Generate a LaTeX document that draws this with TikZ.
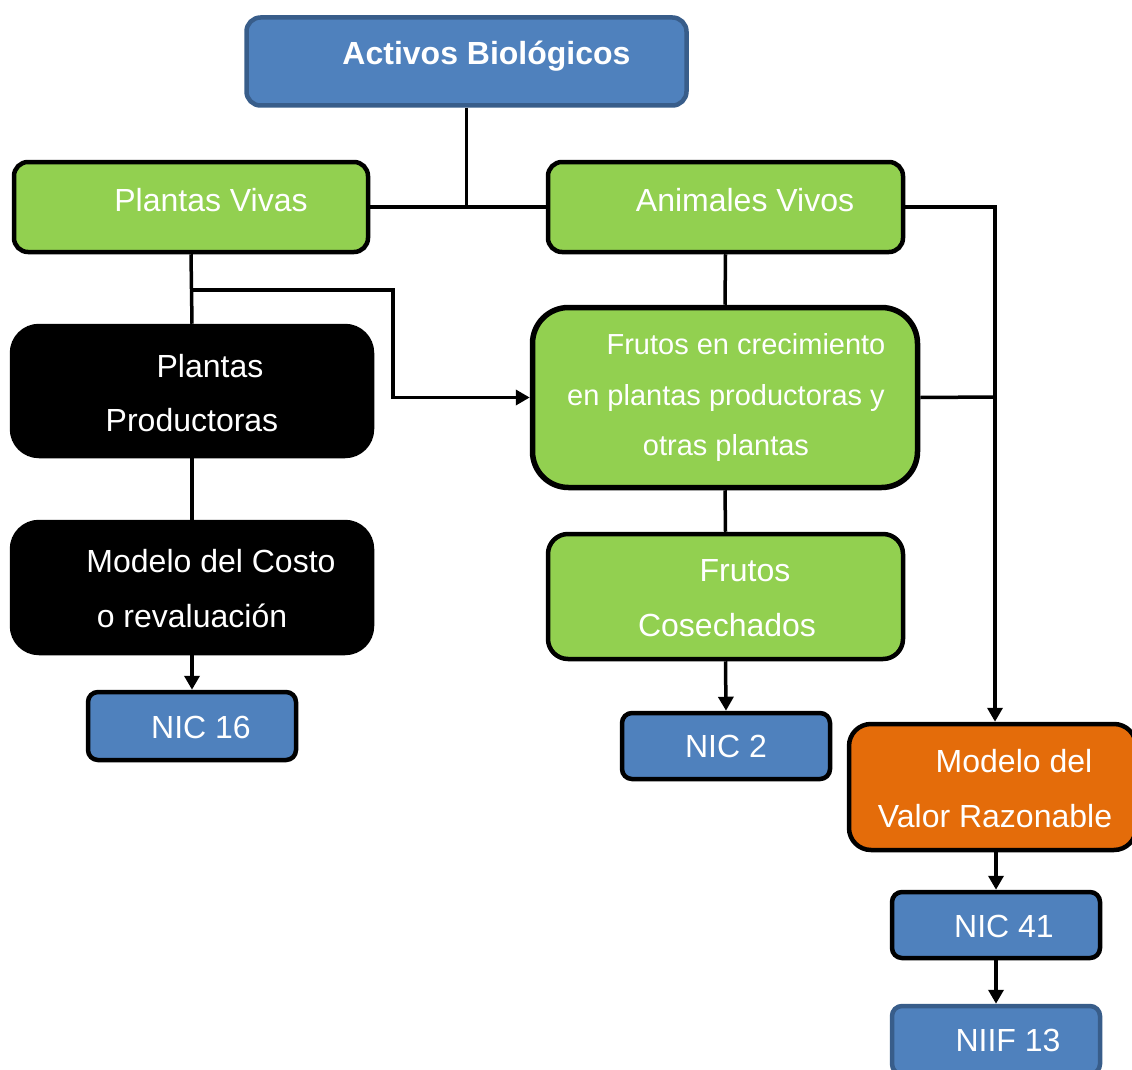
\documentclass[tikz,border=0pt]{standalone}
\usepackage{fontspec}
\setmainfont{Liberation Sans}
\usetikzlibrary{arrows.meta}
\definecolor{bfill}{HTML}{4F81BD}
\definecolor{bline}{HTML}{385D8A}
\definecolor{gfill}{HTML}{92D050}
\definecolor{ofill}{HTML}{E46C0A}
\tikzset{
  box/.style={rectangle, inner sep=0pt, line width=4.5pt},
  bluebox/.style={box, fill=bfill, draw=black},
  greenbox/.style={box, fill=gfill, draw=black},
  blackbox/.style={box, fill=black, draw=black},
  orangebox/.style={box, fill=ofill, draw=black},
  txt/.style={anchor=base, text=white, inner sep=0pt, font=\fontsize{32pt}{38pt}\selectfont},
  stxt/.style={txt, font=\fontsize{29pt}{34pt}\selectfont},
  conn/.style={line width=3.5pt},
  arr/.style={conn, -{Triangle[length=14pt,width=15pt]}}
}
\begin{document}
\begin{tikzpicture}[x=1pt,y=-1pt]
\useasboundingbox (0,0) rectangle (1132,1070);
% boxes
\node[bluebox, draw=bline, rounded corners=14pt, minimum width=440pt, minimum height=88pt] (act) at (466.5,61.5) {};
\node[greenbox, rounded corners=14pt, minimum width=354pt, minimum height=90pt] (pv) at (191,207) {};
\node[greenbox, rounded corners=14pt, minimum width=355pt, minimum height=90pt] (av) at (725.5,207) {};
\node[blackbox, rounded corners=27pt, minimum width=360pt, minimum height=130pt] (pp) at (192,391) {};
\node[greenbox, line width=5.5pt, rounded corners=36pt, minimum width=385pt, minimum height=180pt] (fc) at (725,397.5) {};
\node[blackbox, rounded corners=27pt, minimum width=360pt, minimum height=131pt] (mc) at (192,587.5) {};
\node[greenbox, rounded corners=20pt, minimum width=355pt, minimum height=125pt] (fco) at (725.5,596.5) {};
\node[bluebox, rounded corners=10pt, minimum width=208pt, minimum height=68pt] (n16) at (192,726) {};
\node[bluebox, rounded corners=10pt, minimum width=208pt, minimum height=66pt] (n2) at (726,746) {};
\node[orangebox, rounded corners=22pt, minimum width=287pt, minimum height=126pt] (mvr) at (992.5,787) {};
\node[bluebox, rounded corners=10pt, minimum width=208pt, minimum height=66pt] (n41) at (996,925) {};
\node[bluebox, draw=bline, rounded corners=10pt, minimum width=208pt, minimum height=68pt] (niif) at (996,1040) {};
% texts
\node[txt, font=\bfseries\fontsize{32pt}{38pt}\selectfont] (tact) at (486.5,65) {Activos Biológicos};
\node[txt] (tpv) at (211,211) {Plantas Vivas};
\node[txt] (tav) at (745,211) {Animales Vivos};
\node[txt] (tpp1) at (210,377) {Plantas};
\node[txt] (tpp2) at (192,431) {Productoras};
\node[stxt] (tfc1) at (746,354) {Frutos en crecimiento};
\node[stxt] (tfc2) at (726,405) {en plantas productoras y};
\node[stxt] (tfc3) at (726,455) {otras plantas};
\node[txt] (tmc1) at (211,572) {Modelo del Costo};
\node[txt] (tmc2) at (192,627) {o revaluación};
\node[txt] (tfco1) at (745,581) {Frutos};
\node[txt] (tfco2) at (727,636) {Cosechados};
\node[txt] (tn16) at (201,738) {NIC 16};
\node[txt] (tn2) at (726,757) {NIC 2};
\node[txt] (tmvr1) at (1014,772) {Modelo del};
\node[txt] (tmvr2) at (995,827) {Valor Razonable};
\node[txt] (tn41) at (1004,937) {NIC 41};
\node[txt] (tniif) at (1008,1051) {NIIF 13};
% connectors
\coordinate (j1) at (act.south |- pv.east);
\draw[conn] (act.south) -- (j1);
\draw[conn] (pv.east) -- (av.west);
\coordinate (r1) at (995,207);
\coordinate (r2) at (995,397);
\draw[arr] (av.east) -- (r1) -- (r1 |- mvr.north);
\draw[conn] (fc.east) -- (r2);
\draw[conn] (pv.south) -- (pp.north);
\coordinate (b1) at (192,290);
\coordinate (b2) at (393,290);
\draw[arr] (b1) -- (b2) |- (fc.west);
\draw[conn] (av.south) -- (fc.north);
\draw[conn] (pp.south) -- (mc.north);
\draw[arr] (mc.south) -- (n16.north);
\draw[conn] (fc.south) -- (fco.north);
\draw[arr] (fco.south) -- (n2.north);
\draw[arr] (n41.north |- mvr.south) -- (n41.north);
\draw[arr] (n41.south) -- (niif.north);
\end{tikzpicture}
\end{document}
